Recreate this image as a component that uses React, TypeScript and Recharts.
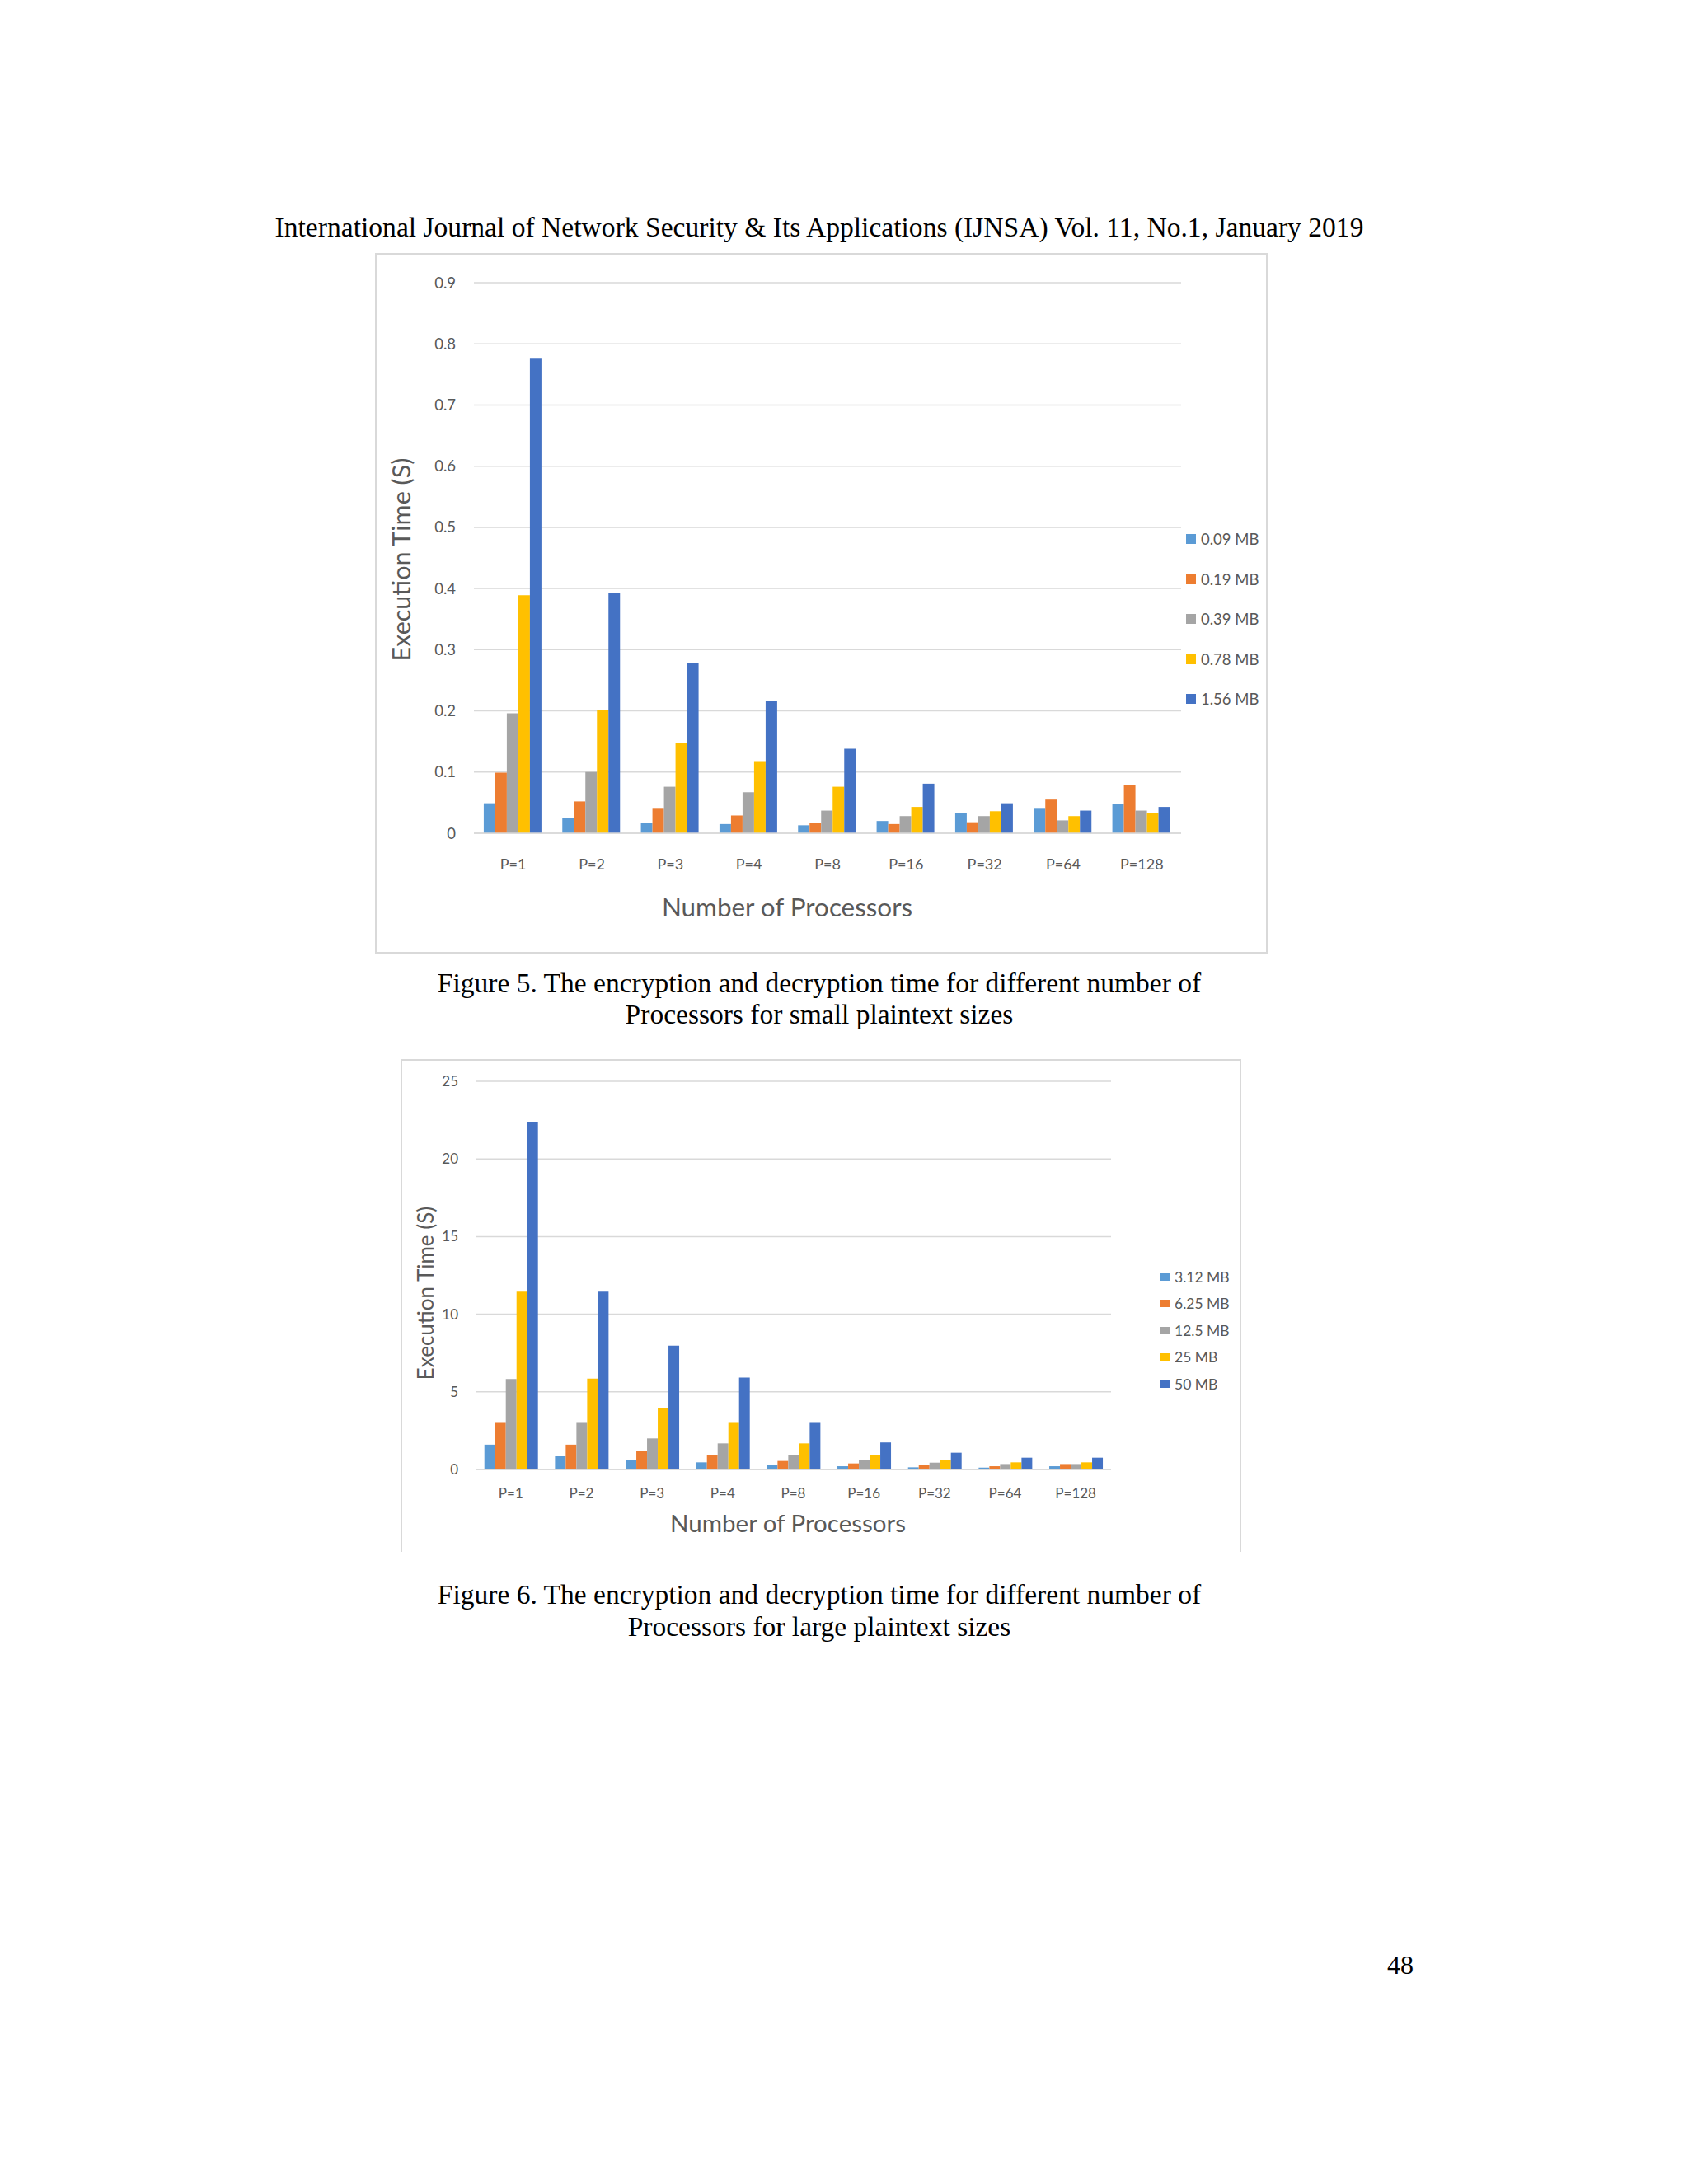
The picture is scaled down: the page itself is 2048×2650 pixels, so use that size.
import React from 'react';
import { BarChart, Bar, XAxis, YAxis, CartesianGrid } from 'recharts';

const categories = ['P=1', 'P=2', 'P=3', 'P=4', 'P=8', 'P=16', 'P=32', 'P=64', 'P=128'];

const smallNames = ['0.09 MB', '0.19 MB', '0.39 MB', '0.78 MB', '1.56 MB'];
const small009 = [0.049, 0.025, 0.017, 0.015, 0.013, 0.020, 0.033, 0.040, 0.048];
const small019 = [0.099, 0.052, 0.040, 0.029, 0.017, 0.015, 0.018, 0.055, 0.079];
const small039 = [0.196, 0.100, 0.076, 0.067, 0.037, 0.028, 0.028, 0.021, 0.037];
const small078 = [0.389, 0.201, 0.147, 0.118, 0.076, 0.043, 0.036, 0.028, 0.033];
const small156 = [0.777, 0.392, 0.279, 0.217, 0.138, 0.081, 0.049, 0.037, 0.043];
const smallTicks = [0, 0.1, 0.2, 0.3, 0.4, 0.5, 0.6, 0.7, 0.8, 0.9];

const largeNames = ['3.12 MB', '6.25 MB', '12.5 MB', '25 MB', '50 MB'];
const large312 = [1.60, 0.85, 0.62, 0.46, 0.30, 0.21, 0.14, 0.12, 0.21];
const large625 = [3.0, 1.6, 1.2, 0.94, 0.55, 0.39, 0.30, 0.21, 0.35];
const large125 = [5.83, 3.0, 2.0, 1.68, 0.94, 0.62, 0.44, 0.35, 0.35];
const large25 = [11.45, 5.85, 3.97, 3.0, 1.68, 0.92, 0.62, 0.46, 0.46];
const large50 = [22.35, 11.45, 7.98, 5.92, 3.0, 1.74, 1.08, 0.76, 0.76];
const largeTicks = [0, 5, 10, 15, 20, 25];

const colors = ['#5B9BD5', '#ED7D31', '#A5A5A5', '#FFC000', '#4472C4'];

const build = (names: string[], series: number[][]) =>
  categories.map((c, i) => {
    const row: any = { cat: c };
    names.forEach((n, k) => (row[n] = series[k][i]));
    return row;
  });

const smallData = build(smallNames, [small009, small019, small039, small078, small156]);
const largeData = build(largeNames, [large312, large625, large125, large25, large50]);

const chartFont = 'Lato, "Open Sans", sans-serif';
const serif = '"Liberation Serif", "Times New Roman", serif';
const textGray = '#595959';
const gridGray = '#d9d9d9';

const abs = (left: number, top: number, extra: any = {}): React.CSSProperties => ({
  position: 'absolute',
  left,
  top,
  ...extra,
});

function LegendBox({ names, left, top, spacing, fontSize, sqW, sqH }: any) {
  return (
    <>
      {names.map((n: string, i: number) => (
        <div
          key={n}
          style={abs(left, top + i * spacing - 15, {
            height: 30,
            display: 'flex',
            alignItems: 'center',
            fontFamily: chartFont,
            fontSize,
            color: textGray,
            whiteSpace: 'nowrap',
          })}
        >
          <span style={{ display: 'inline-block', width: sqW, height: sqH, background: colors[i], marginRight: 6 }} />
          {n}
        </div>
      ))}
    </>
  );
}

export default function App() {
  return (
    <div style={{ position: 'absolute', left: 0, top: 0, width: 2048, height: 2650, background: '#fff' }}>
      {/* Header */}
      <div
        style={abs(0, 256, {
          width: 1988,
          textAlign: 'center',
          fontFamily: serif,
          fontSize: 33.6,
          lineHeight: '40px',
          color: '#000',
          whiteSpace: 'nowrap',
        })}
      >
        International Journal of Network Security &amp; Its Applications (IJNSA) Vol. 11, No.1, January 2019
      </div>

      {/* Figure 5 */}
      <div style={abs(455, 307, { width: 1083, height: 850, border: `2px solid ${gridGray}`, boxSizing: 'border-box' })} />
      <div style={abs(455, 307)}>
        <BarChart
          width={1083}
          height={850}
          data={smallData}
          margin={{ top: 36, right: 105, bottom: 0, left: 0 }}
          barCategoryGap="12.5%"
          barGap={0}
        >
          <CartesianGrid vertical={false} stroke={gridGray} strokeWidth={1.5} />
          <XAxis
            dataKey="cat"
            height={146}
            tickLine={false}
            axisLine={{ stroke: gridGray, strokeWidth: 1.5 }}
            tickMargin={25}
            interval={0}
            tick={{ fill: textGray, fontSize: 18, fontFamily: chartFont }}
          />
          <YAxis
            width={120}
            domain={[0, 0.9]}
            ticks={smallTicks}
            tickFormatter={(v: number) => (v === 0 ? '0' : v.toFixed(1))}
            axisLine={false}
            tickLine={false}
            tickMargin={16}
            tick={{ fill: textGray, fontSize: 18.5, fontFamily: chartFont }}
          />
          {smallNames.map((n, i) => (
            <Bar key={n} dataKey={n} fill={colors[i]} isAnimationActive={false} />
          ))}
        </BarChart>
      </div>
      <div
        style={abs(486 - 200, 679 - 20, {
          width: 400,
          height: 40,
          lineHeight: '40px',
          textAlign: 'center',
          transform: 'rotate(-90deg)',
          fontFamily: chartFont,
          fontSize: 30.5,
          color: textGray,
          whiteSpace: 'nowrap',
        })}
      >
        Execution Time (S)
      </div>
      <div
        style={abs(955 - 250, 1100 - 20, {
          width: 500,
          height: 40,
          lineHeight: '40px',
          textAlign: 'center',
          fontFamily: chartFont,
          fontSize: 31.4,
          color: textGray,
          whiteSpace: 'nowrap',
        })}
      >
        Number of Processors
      </div>
      <LegendBox names={smallNames} left={1439} top={654} spacing={48.6} fontSize={18.5} sqW={12} sqH={12} />

      <div
        style={abs(0, 1174, {
          width: 1988,
          textAlign: 'center',
          fontFamily: serif,
          fontSize: 33.5,
          lineHeight: '38px',
          color: '#000',
        })}
      >
        Figure 5. The encryption and decryption time for different number of
        <br />
        Processors for small plaintext sizes
      </div>

      {/* Figure 6 */}
      <div
        style={abs(486, 1285, {
          width: 1020,
          height: 598,
          borderTop: `2px solid ${gridGray}`,
          borderLeft: `2px solid ${gridGray}`,
          borderRight: `2px solid ${gridGray}`,
          boxSizing: 'border-box',
        })}
      />
      <div style={abs(486, 1285)}>
        <BarChart
          width={1020}
          height={598}
          data={largeData}
          margin={{ top: 27, right: 158, bottom: 0, left: 0 }}
          barCategoryGap="12.5%"
          barGap={0}
        >
          <CartesianGrid vertical={false} stroke={gridGray} strokeWidth={1.5} />
          <XAxis
            dataKey="cat"
            height={100}
            tickLine={false}
            axisLine={{ stroke: gridGray, strokeWidth: 1.5 }}
            tickMargin={17}
            interval={0}
            tick={{ fill: textGray, fontSize: 17, fontFamily: chartFont }}
          />
          <YAxis
            width={91}
            domain={[0, 25]}
            ticks={largeTicks}
            axisLine={false}
            tickLine={false}
            tickMargin={15}
            tick={{ fill: textGray, fontSize: 17, fontFamily: chartFont }}
          />
          {largeNames.map((n, i) => (
            <Bar key={n} dataKey={n} fill={colors[i]} isAnimationActive={false} />
          ))}
        </BarChart>
      </div>
      <div
        style={abs(516 - 200, 1569 - 20, {
          width: 400,
          height: 40,
          lineHeight: '40px',
          textAlign: 'center',
          transform: 'rotate(-90deg)',
          fontFamily: chartFont,
          fontSize: 26,
          color: textGray,
          whiteSpace: 'nowrap',
        })}
      >
        Execution Time (S)
      </div>
      <div
        style={abs(956 - 250, 1848 - 20, {
          width: 500,
          height: 40,
          lineHeight: '40px',
          textAlign: 'center',
          fontFamily: chartFont,
          fontSize: 29.5,
          color: textGray,
          whiteSpace: 'nowrap',
        })}
      >
        Number of Processors
      </div>
      <LegendBox names={largeNames} left={1407} top={1549} spacing={32.5} fontSize={17.5} sqW={12} sqH={9} />

      <div
        style={abs(0, 1915, {
          width: 1988,
          textAlign: 'center',
          fontFamily: serif,
          fontSize: 33.5,
          lineHeight: '39px',
          color: '#000',
        })}
      >
        Figure 6. The encryption and decryption time for different number of
        <br />
        Processors for large plaintext sizes
      </div>

      {/* Page number */}
      <div style={abs(1699 - 50, 2384 - 20, { width: 100, height: 40, lineHeight: '40px', textAlign: 'center', fontFamily: serif, fontSize: 32, color: '#000' })}>
        48
      </div>
    </div>
  );
}
